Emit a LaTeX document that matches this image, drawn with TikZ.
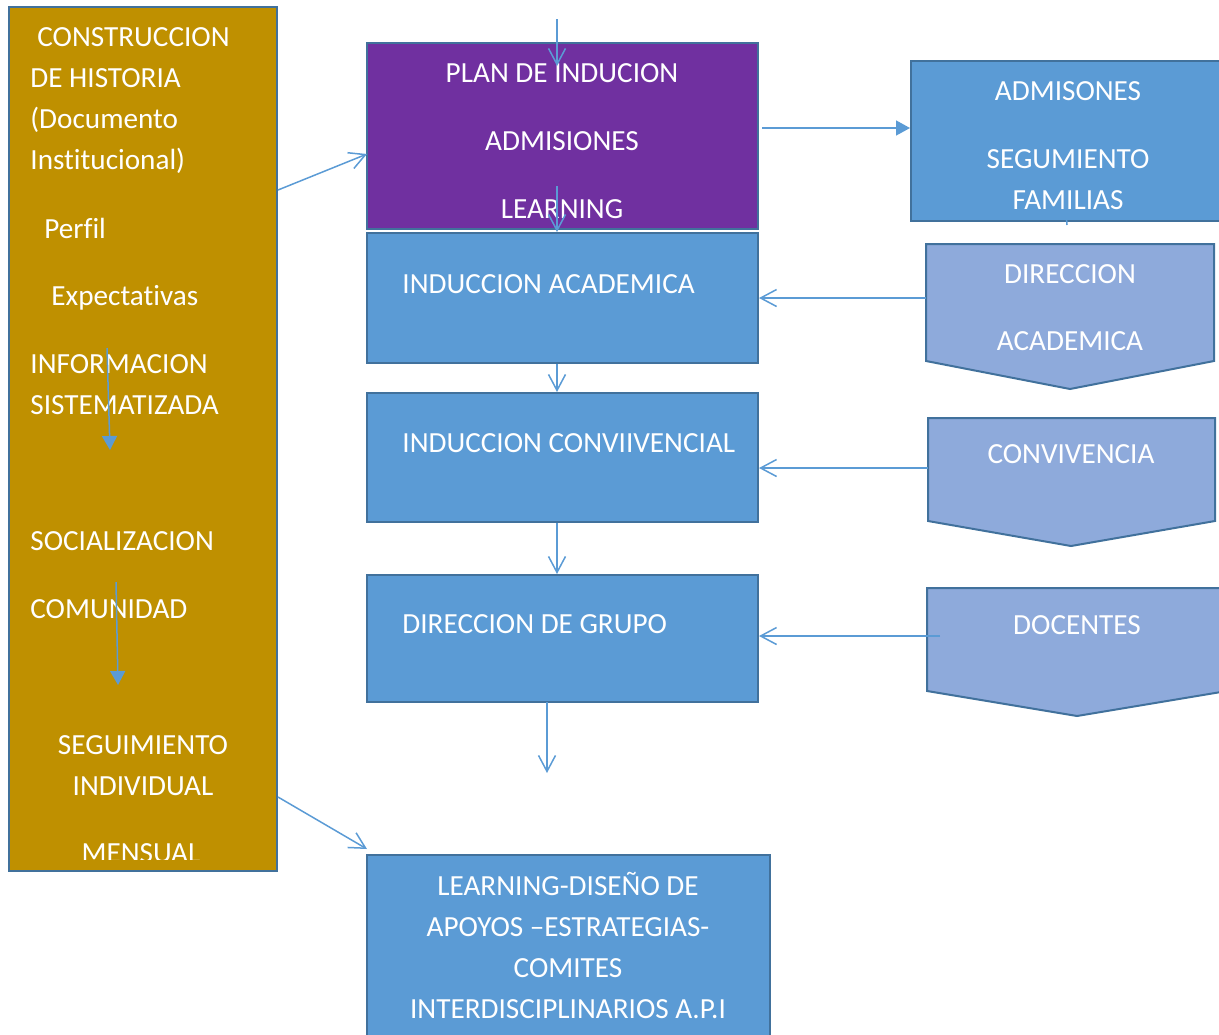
\documentclass[tikz,border=0pt]{standalone}
\usepackage{fontspec}
\setmainfont{Carlito}[Ligatures=NoCommon]
\usetikzlibrary{arrows.meta}
\definecolor{gold}{HTML}{BF9000}
\definecolor{purp}{HTML}{7030A0}
\definecolor{boxblue}{HTML}{5B9BD5}
\definecolor{chev}{HTML}{8EAADB}
\definecolor{edgec}{HTML}{41719C}
\begin{document}
\begin{tikzpicture}[x=0.5pt,y=-0.5pt,
 box/.style={draw=edgec, line width=1pt, inner sep=0pt},
 txt/.style={text=white, font=\fontsize{14.6}{20.5}\selectfont, inner sep=0pt},
 lt/.style={txt, anchor=base west},
 ct/.style={txt, anchor=base},
 conn/.style={draw=boxblue, line width=0.75pt},
 openarrow/.style={conn, -{Straight Barb[length=8pt,width=8.5pt]}},
 fillarrow/.style={conn, -{Triangle[length=7pt,width=7.5pt]}}]
\useasboundingbox (0,0) rectangle (1219,1034);
\clip (0,0) rectangle (1219,1034);

% boxes
\node[box, fill=gold, minimum width=134pt, minimum height=432pt] (left) at (143,439) {};
\node[box, fill=purp, minimum width=195.5pt, minimum height=93pt] (plan) at (562.5,136) {};
\node[box, fill=boxblue, minimum width=195.5pt, minimum height=65pt] (ia) at (562.5,298) {};
\node[box, fill=boxblue, minimum width=195.5pt, minimum height=64.5pt] (ic) at (562.5,457.5) {};
\node[box, fill=boxblue, minimum width=195.5pt, minimum height=63.5pt] (dg) at (562.5,638.5) {};
\node[box, fill=boxblue, minimum width=201.5pt, minimum height=95pt] (lrn) at (568.5,950) {};
\node[box, fill=boxblue, minimum width=164.5pt, minimum height=80pt] (adm) at (1075.5,141) {};

% chevrons
\draw[box, fill=chev] (926,244) -- (1214,244) -- (1214,361) -- (1070,389) -- (926,361) -- cycle;
\draw[box, fill=chev] (928,418) -- (1215,418) -- (1215,521) -- (1071,546) -- (928,521) -- cycle;
\draw[box, fill=chev] (927,588) -- (1227,588) -- (1227,691) -- (1077,716) -- (927,691) -- cycle;

% left box texts
\node[lt] (t1) at (37,46) {CONSTRUCCION};
\node[lt] (t2) at (30,87) {DE HISTORIA};
\node[lt] (t3) at (30,128) {(Documento};
\node[lt] (t4) at (30,169) {Institucional)};
\node[lt] (t5) at (44,238) {Perfil};
\node[lt] (t6) at (51,305) {Expectativas};
\node[lt] (t7) at (30,373) {INFORMACION};
\node[lt] (t8) at (30,414) {SISTEMATIZADA};
\node[lt] (t9) at (30,550) {SOCIALIZACION};
\node[lt] (t10) at (30,618) {COMUNIDAD};
\node[ct] (t11) at (143,754) {SEGUIMIENTO};
\node[ct] (t12) at (143,795) {INDIVIDUAL};
\begin{scope}
\clip (9,7) rectangle (277,859);
\node[ct] (t13) at (141,862) {MENSUAL};
\end{scope}

% other texts
\node[ct] (p1) at (562,82) {PLAN DE INDUCION};
\node[ct] (p2) at (562,150) {ADMISIONES};
\node[ct] (p3) at (562,218) {LEARNING};
\node[lt] (ia1) at (402,293) {INDUCCION ACADEMICA};
\node[lt] (ic1) at (402,452) {INDUCCION CONVIIVENCIAL};
\node[lt] (dg1) at (402,633) {DIRECCION DE GRUPO};
\node[ct] (l1) at (568,895) {LEARNING-DISEÑO DE};
\node[ct] (l2) at (568,936) {APOYOS –ESTRATEGIAS-};
\node[ct] (l3) at (568,977) {COMITES};
\node[ct] (l4) at (568,1018) {INTERDISCIPLINARIOS A.P.I};
\node[ct] (a1) at (1068,100) {ADMISONES};
\node[ct] (a2) at (1068,168) {SEGUMIENTO};
\node[ct] (a3) at (1068,209) {FAMILIAS};
\node[ct] (d1) at (1070,283) {DIRECCION};
\node[ct] (d2) at (1070,350) {ACADEMICA};
\node[ct] (c1) at (1071,463) {CONVIVENCIA};
\node[ct] (o1) at (1077,634) {DOCENTES};

% coordinates
\coordinate (topin) at (557,19);
\coordinate (topend) at (557,66);
\coordinate (midin) at (557,186);
\coordinate (lin1) at (107,348);
\coordinate (lend1) at (110,450);
\coordinate (lin2) at (116,582);
\coordinate (lend2) at (118,685);
\coordinate (lout1) at (278,190);
\coordinate (pin1) at (367,154);
\coordinate (lout2) at (278,797);
\coordinate (lrnin) at (367,849);
\coordinate (pout) at (762,128);
\coordinate (dgend) at (547,773);
\coordinate (dgout) at (547,702);
\coordinate (da) at (926,298);
\coordinate (cv) at (928,468);
\coordinate (dc) at (940,636);
\coordinate (tick1) at (1066,212);
\coordinate (tick2) at (1067,225);

% connectors
\draw[openarrow] (topin) -- (topend);
\draw[openarrow] (midin) -- (ia.north -| midin);
\draw[openarrow] (ia.south -| topin) -- (ic.north -| topin);
\draw[openarrow] (ic.south -| topin) -- (dg.north -| topin);
\draw[openarrow] (dgout) -- (dgend);
\draw[fillarrow] (lin1) -- (lend1);
\draw[fillarrow] (lin2) -- (lend2);
\draw[openarrow] (lout1) -- (pin1);
\draw[openarrow] (lout2) -- (lrnin);
\draw[fillarrow] (pout) -- (adm.west |- pout);
\draw[openarrow] (da) -- (ia.east |- da);
\draw[openarrow] (cv) -- (ic.east |- cv);
\draw[openarrow] (dc) -- (dg.east |- dc);
\draw[conn] (tick1) -- (tick2);
\end{tikzpicture}
\end{document}
